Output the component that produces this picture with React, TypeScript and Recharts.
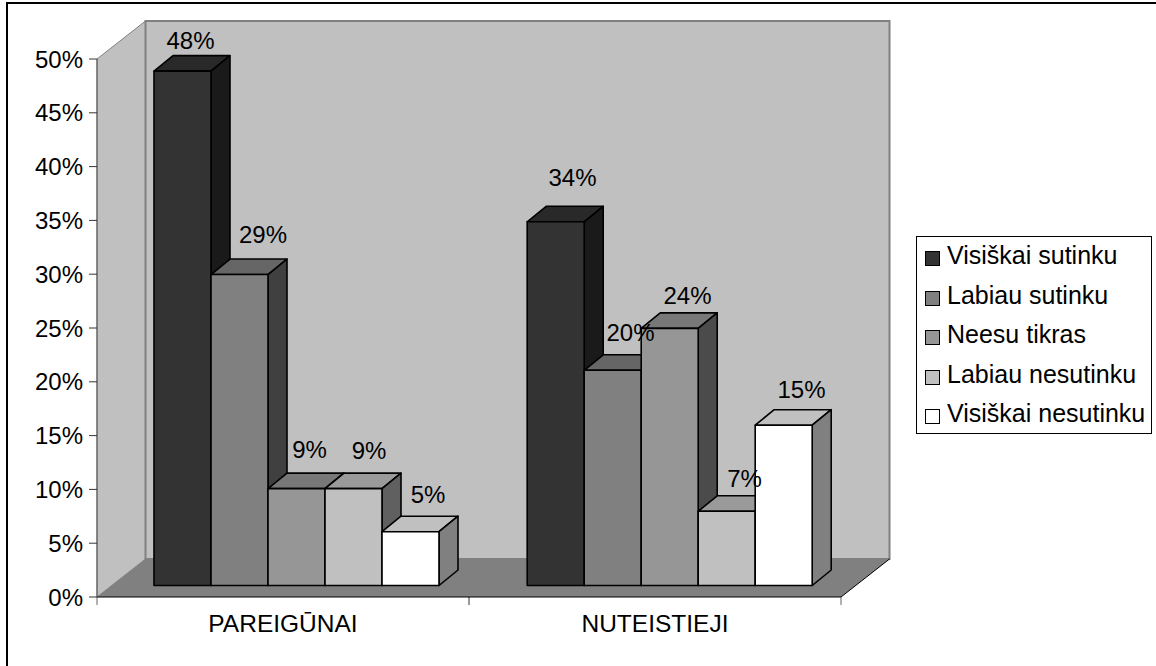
import React from "react";
import { BarChart, Bar, XAxis, YAxis, Legend, LabelList, usePlotArea } from "recharts";

const categories = ["PAREIGŪNAI", "NUTEISTIEJI"];
const seriesNames = ["Visiškai sutinku", "Labiau sutinku", "Neesu tikras", "Labiau nesutinku", "Visiškai nesutinku"];
const visiskaiSutinku = [47.8, 33.8];
const labiauSutinku = [28.9, 20];
const neesuTikras = [9, 23.9];
const labiauNesutinku = [9, 6.9];
const visiskaiNesutinku = [5, 14.9];
const yTicks = [0, 5, 10, 15, 20, 25, 30, 35, 40, 45, 50];

const seriesValues = [visiskaiSutinku, labiauSutinku, neesuTikras, labiauNesutinku, visiskaiNesutinku];
const data = categories.map((name, i) => {
  const row: Record<string, string | number> = { name };
  seriesNames.forEach((s, k) => (row[s] = seriesValues[k][i]));
  return row;
});

const FONT = "'Liberation Sans', Arial, sans-serif";
const FONT_SIZE = 24;
const fronts = ["#333333", "#808080", "#969696", "#C0C0C0", "#FFFFFF"];
const tops = ["#292929", "#666666", "#787878", "#9A9A9A", "#C0C0C0"];
const sides = ["#1A1A1A", "#404040", "#4B4B4B", "#606060", "#808080"];

// Offset of the bars' front plane from the axis plane, and the bars' own depth.
const FX = 14;
const FY = -11.5;
const DX = 19;
const DY = -15.5;
// Total depth of the chart box.
const BX = 48.5;
const BY = -38;
// Small horizontal shift of each category's bar group.
const groupShift = [0, 1.2];

// Where each data label sits relative to the centre of the bar's front top edge.
const labelDx = [[8, 18], [23.5, 19], [13, 19], [15.5, 19], [17.5, 19]];
const labelDy = [[-30, -44], [-40, -37], [-39, -32], [-38, -32], [-37, -35]];

function Walls() {
  const p = usePlotArea();
  if (!p) return null;
  const l = p.x, r = p.x + p.width, t = p.y, b = p.y + p.height;
  return (
    <g>
      <polygon points={`${l},${t} ${l + BX},${t + BY} ${l + BX},${b + BY} ${l},${b}`} fill="#C0C0C0" stroke="#808080" strokeWidth={1} />
      <rect x={l + BX} y={t + BY} width={r - l} height={b - t} fill="#C0C0C0" stroke="#808080" strokeWidth={2} />
      <polygon points={`${l},${b} ${l + BX},${b + BY} ${r + BX},${b + BY} ${r},${b}`} fill="#808080" />
      <line x1={r} y1={b} x2={r + BX} y2={b + BY} stroke="#000" strokeWidth={1} />
      <line x1={r} y1={b} x2={r} y2={b + 8} stroke="#666" strokeWidth={1} />
      <line x1={(l + r) / 2} y1={b} x2={(l + r) / 2} y2={b + 8} stroke="#333" strokeWidth={1} />
      <line x1={l} y1={b} x2={l} y2={b + 8} stroke="#666" strokeWidth={1} />
    </g>
  );
}

function makeShape(k: number) {
  return function Shape3D(props: any) {
    const x = props.x + FX + groupShift[props.index], y = props.y + FY, w = props.width, h = props.height;
    const common = { stroke: "#000", strokeWidth: 1.6, strokeLinejoin: "round" as const };
    return (
      <g>
        <polygon points={`${x},${y} ${x + DX},${y + DY} ${x + w + DX},${y + DY} ${x + w},${y}`} fill={tops[k]} {...common} />
        <polygon points={`${x + w},${y} ${x + w + DX},${y + DY} ${x + w + DX},${y + h + DY} ${x + w},${y + h}`} fill={sides[k]} {...common} />
        <rect x={x} y={y} width={w} height={h} fill={fronts[k]} {...common} />
      </g>
    );
  };
}

function makeLabel(k: number) {
  return function BarLabel(props: any) {
    const { x, y, width, index, value } = props;
    return (
      <text
        x={x + width / 2 + FX + labelDx[k][index]}
        y={y + FY + labelDy[k][index] + 8}
        textAnchor="middle"
        fontFamily={FONT}
        fontSize={FONT_SIZE}
        fill="#000"
      >
        {Math.round(value)}%
      </text>
    );
  };
}

function LegendBox(props: any) {
  const items = props.payload || [];
  return (
    <div
      style={{
        boxSizing: "border-box",
        width: 236,
        height: 198,
        border: "1px solid #000",
        background: "#fff",
        fontFamily: FONT,
        fontSize: 25,
        paddingTop: 1,
      }}
    >
      {items.map((it: any) => (
        <div key={it.value} style={{ display: "flex", alignItems: "center", height: 39.5, paddingLeft: 8, whiteSpace: "nowrap", color: "#000" }}>
          <span style={{ boxSizing: "border-box", display: "inline-block", width: 15, height: 15, background: fronts[seriesNames.indexOf(it.value)], border: "1.5px solid #000", marginRight: 7, marginTop: 2 }} />
          <span style={{ position: "relative", top: -2 }}>{it.value}</span>
        </div>
      ))}
    </div>
  );
}

export default function App() {
  return (
    <div style={{ position: "absolute", left: 0, top: 0, width: 1156, height: 666, background: "#fff", overflow: "hidden" }}>
      <div style={{ position: "absolute", left: 6, top: 2, width: 1160, height: 680, border: "2px solid #000", boxSizing: "border-box" }} />
      <BarChart
        width={1156}
        height={666}
        data={data}
        margin={{ top: 59, left: 0, right: 79, bottom: 0 }}
        barCategoryGap={43}
        barGap={0}
        style={{ position: "absolute", left: 0, top: 0 }}
      >
        <Walls />
        <XAxis
          dataKey="name"
          tickLine={false}
          axisLine={{ stroke: "#000", strokeWidth: 1 }}
          tick={{ fontFamily: FONT, fontSize: 24.5, fill: "#000" }}
          tickMargin={12}
          height={69}
          interval={0}
        />
        <YAxis
          width={97}
          domain={[0, 50]}
          ticks={yTicks}
          tickFormatter={(v: number) => `${v}%`}
          tickSize={8}
          tickMargin={6}
          interval={0}
          axisLine={{ stroke: "#555", strokeWidth: 1 }}
          tickLine={{ stroke: "#333" }}
          tick={{ fontFamily: FONT, fontSize: FONT_SIZE, fill: "#000" }}
        />
        {seriesNames.map((s, k) => (
          <Bar key={s} dataKey={s} fill={fronts[k]} shape={makeShape(k)} isAnimationActive={false}>
            <LabelList dataKey={s} content={makeLabel(k)} />
          </Bar>
        ))}
        <Legend
          layout="vertical"
          align="right"
          verticalAlign="top"
          itemSorter={null}
          content={<LegendBox />}
          wrapperStyle={{ position: "absolute", left: 916, top: 236, width: 236, height: 198 }}
        />
      </BarChart>
    </div>
  );
}
